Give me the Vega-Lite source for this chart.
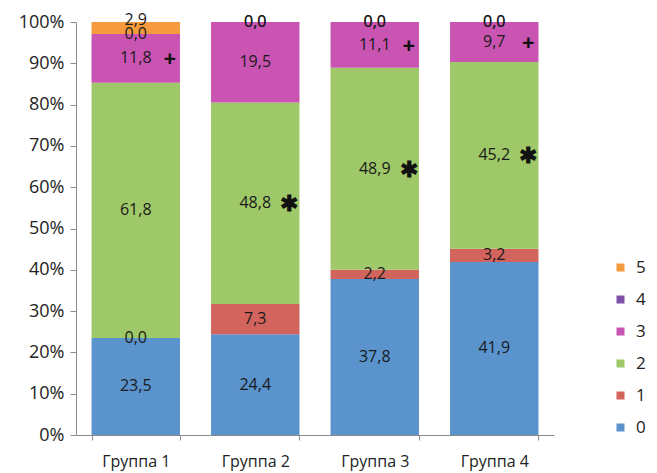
{
  "$schema": "https://vega.github.io/schema/vega-lite/v6.json",
  "autosize": {"type": "none"},
  "padding": {"left": 76, "top": 22, "right": 103, "bottom": 38},
  "width": 478,
  "height": 413,
  "background": "white",
  "config": {
    "view": {"stroke": null},
    "font": "Open Sans",
    "axis": {"labelFont": "Open Sans", "labelColor": "#222", "domainColor": "#8c8c8c", "tickColor": "#8c8c8c", "grid": false, "title": null}
  },
  "data": {
    "values": [
      {"group": "Группа 1", "cat": "0", "value": 23.5, "sig": ""},
      {"group": "Группа 1", "cat": "1", "value": 0.0, "sig": ""},
      {"group": "Группа 1", "cat": "2", "value": 61.8, "sig": ""},
      {"group": "Группа 1", "cat": "3", "value": 11.8, "sig": "+"},
      {"group": "Группа 1", "cat": "4", "value": 0.0, "sig": ""},
      {"group": "Группа 1", "cat": "5", "value": 2.9, "sig": ""},
      {"group": "Группа 2", "cat": "0", "value": 24.4, "sig": ""},
      {"group": "Группа 2", "cat": "1", "value": 7.3, "sig": ""},
      {"group": "Группа 2", "cat": "2", "value": 48.8, "sig": "✱"},
      {"group": "Группа 2", "cat": "3", "value": 19.5, "sig": ""},
      {"group": "Группа 2", "cat": "4", "value": 0.0, "sig": ""},
      {"group": "Группа 2", "cat": "5", "value": 0.0, "sig": ""},
      {"group": "Группа 3", "cat": "0", "value": 37.8, "sig": ""},
      {"group": "Группа 3", "cat": "1", "value": 2.2, "sig": ""},
      {"group": "Группа 3", "cat": "2", "value": 48.9, "sig": "✱"},
      {"group": "Группа 3", "cat": "3", "value": 11.1, "sig": "+"},
      {"group": "Группа 3", "cat": "4", "value": 0.0, "sig": ""},
      {"group": "Группа 3", "cat": "5", "value": 0.0, "sig": ""},
      {"group": "Группа 4", "cat": "0", "value": 41.9, "sig": ""},
      {"group": "Группа 4", "cat": "1", "value": 3.2, "sig": ""},
      {"group": "Группа 4", "cat": "2", "value": 45.2, "sig": "✱"},
      {"group": "Группа 4", "cat": "3", "value": 9.7, "sig": "+"},
      {"group": "Группа 4", "cat": "4", "value": 0.0, "sig": ""},
      {"group": "Группа 4", "cat": "5", "value": 0.0, "sig": ""}
    ]
  },
  "transform": [
    {"stack": "value", "groupby": ["group"], "sort": [{"field": "cat", "order": "ascending"}], "as": ["y0", "y1"]},
    {"calculate": "(datum.y0 + datum.y1) / 2", "as": "mid"},
    {"calculate": "replace(format(datum.value, '.1f'), '.', ',')", "as": "label"}
  ],
  "encoding": {
    "x": {
      "field": "group", "type": "nominal",
      "scale": {"paddingInner": 0.26, "paddingOuter": 0.13},
      "axis": {"labelAngle": 0, "labelFontSize": 16, "labelPadding": 13, "tickBand": "extent", "tickSize": 5, "domainColor": "#8c8c8c"}
    }
  },
  "layer": [
    {
      "mark": {"type": "bar"},
      "encoding": {
        "y": {"field": "y0", "type": "quantitative", "scale": {"domain": [0, 100]},
          "axis": {"values": [0,10,20,30,40,50,60,70,80,90,100], "labelExpr": "datum.value + '%'", "labelFontSize": 18, "tickSize": 6, "labelPadding": 6}},
        "y2": {"field": "y1"},
        "color": {
          "field": "cat", "type": "nominal",
          "scale": {"domain": ["0","1","2","3","4","5"], "range": ["#5b93cd", "#d3635d", "#9fc868", "#c954b2", "#7d52a8", "#f69b3d"]},
          "legend": {
            "title": null, "values": ["5","4","3","2","1","0"], "orient": "none", "legendX": 536, "legendY": 237,
            "symbolType": "square", "symbolSize": 64, "symbolStrokeWidth": 0, "labelFontSize": 17, "labelColor": "#222",
            "rowPadding": 14, "labelOffset": 7
          }
        }
      }
    },
    {
      "transform": [{"filter": "!(datum.cat == '5' && datum.value > 0)"}],
      "mark": {"type": "text", "fontSize": 16, "color": "#1a1a1a"},
      "encoding": {
        "y": {"field": "mid", "type": "quantitative"},
        "text": {"field": "label"}
      }
    },
    {
      "transform": [{"filter": "datum.cat == '5' && datum.value > 0"}],
      "mark": {"type": "text", "fontSize": 16, "color": "#1a1a1a", "dy": -8},
      "encoding": {
        "y": {"field": "mid", "type": "quantitative"},
        "text": {"field": "label"}
      }
    },
    {
      "mark": {"type": "text", "fontSize": 22, "fontWeight": "bold", "color": "#111", "dx": 34, "dy": 1},
      "encoding": {
        "y": {"field": "mid", "type": "quantitative"},
        "text": {"field": "sig"}
      }
    }
  ]
}
